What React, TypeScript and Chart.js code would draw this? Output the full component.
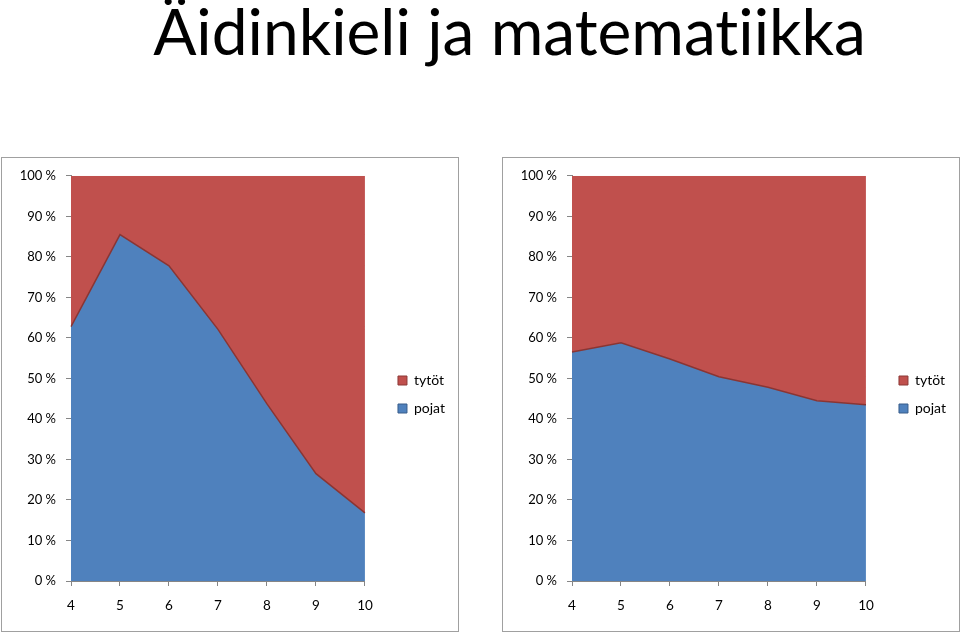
import React, { useEffect, useRef } from "react";
import { Chart, registerables } from "chart.js";

Chart.register(...registerables);

const titleText = "Äidinkieli ja matematiikka";
const categories = ["4", "5", "6", "7", "8", "9", "10"];
const yTicks = [0, 10, 20, 30, 40, 50, 60, 70, 80, 90, 100];
const seriesNames = ["pojat", "tytöt"];

const leftPojat = [62.8, 85.5, 77.8, 62.1, 43.7, 26.5, 16.8];
const leftTytot = [37.2, 14.5, 22.2, 37.9, 56.3, 73.5, 83.2];
const rightPojat = [56.5, 58.8, 54.8, 50.4, 47.8, 44.5, 43.5];
const rightTytot = [43.5, 41.2, 45.2, 49.6, 52.2, 55.5, 56.5];

const FONT = "Lato, 'Open Sans', sans-serif";
const BLUE = "#4F81BD";
const RED = "#C0504D";
const LINE = "#8a3533";
const AXIS = "#868686";

function Panel({ pojat, tytot, left }: { pojat: number[]; tytot: number[]; left: number }) {
  const ref = useRef<HTMLCanvasElement | null>(null);
  useEffect(() => {
    if (!ref.current) return;
    const chart = new Chart(ref.current, {
      type: "line",
      data: {
        labels: categories,
        datasets: [
          {
            label: seriesNames[0],
            data: pojat,
            backgroundColor: BLUE,
            borderColor: LINE,
            borderWidth: 1.5,
            fill: "origin",
            pointRadius: 0,
            tension: 0,
          },
          {
            label: seriesNames[1],
            data: tytot,
            backgroundColor: RED,
            borderColor: RED,
            borderWidth: 0,
            fill: "-1",
            pointRadius: 0,
            tension: 0,
          },
        ],
      },
      options: {
        animation: false,
        responsive: true,
        maintainAspectRatio: false,
        layout: { padding: { top: 0, left: 0, bottom: 0, right: 3 } },
        scales: {
          x: {
            type: "category",
            offset: false,
            grid: {
              display: true,
              drawOnChartArea: false,
              drawTicks: true,
              tickLength: 5,
              color: AXIS,
              offset: false,
            },
            border: { display: true, color: AXIS, width: 1 },
            ticks: {
              color: "#000",
              font: { family: FONT, size: 13.5 },
              padding: 12,
              maxRotation: 0,
              autoSkip: false,
            },
            afterFit: (axis: any) => {
              axis.height = 50;
            },
          },
          xTop: {
            type: "category",
            position: "top",
            display: true,
            grid: { display: false, drawTicks: false },
            border: { display: false },
            ticks: { display: false },
            afterFit: (axis: any) => {
              axis.height = 16;
            },
          },
          y: {
            type: "linear",
            stacked: true,
            min: 0,
            max: 100,
            afterBuildTicks: (axis: any) => {
              axis.ticks = yTicks.map((v) => ({ value: v }));
            },
            grid: {
              display: true,
              drawOnChartArea: false,
              drawTicks: true,
              tickLength: 5,
              color: AXIS,
            },
            border: { display: true, color: AXIS, width: 1 },
            ticks: {
              color: "#000",
              font: { family: FONT, size: 13 },
              padding: 10,
              callback: (v: any) => v + " %",
            },
            afterFit: (axis: any) => {
              axis.width = 69;
            },
          },
          yR: {
            type: "linear",
            position: "right",
            display: true,
            grid: { display: false, drawTicks: false },
            border: { display: false },
            ticks: { display: false },
            afterFit: (axis: any) => {
              axis.width = 19;
            },
          },
        },
        plugins: {
          title: { display: false },
          tooltip: { enabled: false },
          legend: {
            display: true,
            position: "right",
            reverse: true,
            labels: {
              boxWidth: 9,
              boxHeight: 9,
              padding: 14,
              color: "#000",
              font: { family: FONT, size: 14 },
              generateLabels: (c: any) => {
                const items = Chart.defaults.plugins.legend.labels.generateLabels(c);
                return items.map((it: any) => ({
                  ...it,
                  fillStyle: it.datasetIndex === 0 ? BLUE : RED,
                  strokeStyle: it.datasetIndex === 0 ? "#385d8a" : "#8c3836",
                  lineWidth: 1,
                }));
              },
            },
          },
        },
      },
    });
    return () => chart.destroy();
  }, []);
  return (
    <div
      style={{
        position: "absolute",
        left,
        top: 157,
        width: 458,
        height: 475,
        boxSizing: "border-box",
        border: "1px solid #a0a0a0",
        background: "#fff",
      }}
    >
      <div style={{ position: "relative", width: 456, height: 473 }}>
        <canvas ref={ref} />
      </div>
    </div>
  );
}

export default function App() {
  return (
    <div style={{ position: "absolute", left: 0, top: 0, width: 960, height: 633, background: "#fff", overflow: "hidden" }}>
      <div
        style={{
          position: "absolute",
          left: 0,
          top: -6,
          width: 1019,
          textAlign: "center",
          fontFamily: FONT,
          fontSize: 64,
          lineHeight: "74px",
          color: "#000",
          whiteSpace: "nowrap",
          fontVariantLigatures: "none",
        }}
      >
        {titleText}
      </div>
      <Panel pojat={leftPojat} tytot={leftTytot} left={1} />
      <Panel pojat={rightPojat} tytot={rightTytot} left={502} />
    </div>
  );
}
